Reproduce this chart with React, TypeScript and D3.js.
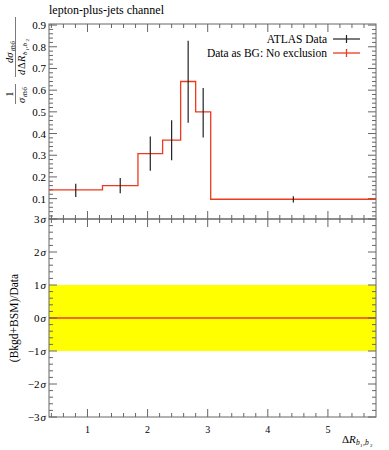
import React from 'react';
import * as d3 from 'd3';

// bin edges of Delta R(b1,b2) and the normalised cross-section per bin
const binEdges = [0.36, 1.25, 1.84, 2.25, 2.55, 2.8, 3.05, 5.8];
const dataValues = [0.14, 0.16, 0.307, 0.37, 0.64, 0.5, 0.097];
const errLow = [0.108, 0.125, 0.229, 0.277, 0.45, 0.382, 0.082];
const errHigh = [0.169, 0.195, 0.386, 0.461, 0.828, 0.61, 0.111];
// "Data as BG: No exclusion" is the data itself
const bgValues = [0.14, 0.16, 0.307, 0.37, 0.64, 0.5, 0.097];

const xTickLabels = [1, 2, 3, 4, 5];
const yTickLabels = [0.1, 0.2, 0.3, 0.4, 0.5, 0.6, 0.7, 0.8, 0.9];
const sigmaTicks = [3, 2, 1, 0, -1, -2, -3];

const FONT = '"Liberation Serif", "DejaVu Serif", serif';
const RED = '#ee3a1c';
const FRAME = '#666';

const left = 49;
const right = 376;
const top = 24;
const mid = 219;
const bottom = 417;

const App: React.FC = () => {
  const x = d3.scaleLinear().domain([0.36, 5.8]).range([left, right]);
  const y = d3.scaleLinear().domain([0.006, 0.905]).range([mid, top]);
  const yr = d3.scaleLinear().domain([-3, 3]).range([bottom, mid]);

  // step line for the background curve
  const stepPts: [number, number][] = [];
  bgValues.forEach((v, i) => {
    stepPts.push([binEdges[i], v]);
    stepPts.push([binEdges[i + 1], v]);
  });
  const stepLine = d3.line<[number, number]>()
    .x(d => x(d[0]))
    .y(d => y(d[1]));

  const xMinor = d3.range(0.4, 5.8, 0.2).filter(v => Math.abs(v - Math.round(v)) > 0.01);
  const yMinor = d3.range(0.02, 0.905, 0.02).filter(v => Math.abs(v * 10 - Math.round(v * 10)) > 0.01);
  const sMinor = d3.range(-2.8, 3, 0.2).filter(v => Math.abs(v - Math.round(v)) > 0.01);

  const maj = 8;
  const min = 4;

  const xTicks = (yy: number, dir: number, key: string) => (
    <g key={key}>
      {xTickLabels.map(v => (
        <line key={'M' + v} x1={x(v)} x2={x(v)} y1={yy} y2={yy + dir * maj} stroke={FRAME} />
      ))}
      {xMinor.map(v => (
        <line key={'m' + v.toFixed(1)} x1={x(v)} x2={x(v)} y1={yy} y2={yy + dir * min} stroke={FRAME} />
      ))}
    </g>
  );

  const yTicks = (scale: d3.ScaleLinear<number, number>, majors: number[], minors: number[], key: string) => (
    <g key={key}>
      {majors.map(v => (
        <g key={'M' + v}>
          <line x1={left} x2={left + maj} y1={scale(v)} y2={scale(v)} stroke={FRAME} />
          <line x1={right} x2={right - maj} y1={scale(v)} y2={scale(v)} stroke={FRAME} />
        </g>
      ))}
      {minors.map(v => (
        <g key={'m' + v.toFixed(2)}>
          <line x1={left} x2={left + min} y1={scale(v)} y2={scale(v)} stroke={FRAME} />
          <line x1={right} x2={right - min} y1={scale(v)} y2={scale(v)} stroke={FRAME} />
        </g>
      ))}
    </g>
  );

  return (
    <svg width={389} height={450} style={{ position: 'absolute', left: 0, top: 0 }} fontFamily={FONT}>
      <rect width={389} height={450} fill="white" />

      <text x={49} y={14} fontSize={12}>lepton-plus-jets channel</text>

      {/* upper panel */}
      {yTicks(y, yTickLabels, yMinor, 'yt')}
      {xTicks(top, 1, 'xt1')}
      {xTicks(mid, -1, 'xt2')}
      {yTickLabels.map(v => (
        <text key={v} x={46} y={y(v) + 4} fontSize={11} textAnchor="end">{v.toFixed(1)}</text>
      ))}

      <path d={stepLine(stepPts) || ''} fill="none" stroke={RED} strokeWidth={1.3} />
      {dataValues.map((v, i) => {
        const cx = x((binEdges[i] + binEdges[i + 1]) / 2);
        return (
          <line key={i} x1={cx} x2={cx} y1={y(errLow[i])} y2={y(errHigh[i])} stroke="#222" strokeWidth={1.2} />
        );
      })}

      {/* legend */}
      <text x={327} y={43} fontSize={11.5} textAnchor="end">ATLAS Data</text>
      <line x1={333} x2={360} y1={39} y2={39} stroke="#222" strokeWidth={1.2} />
      <line x1={346.5} x2={346.5} y1={35} y2={43} stroke="#222" strokeWidth={1.2} />
      <text x={327} y={57} fontSize={11.5} textAnchor="end">Data as BG: No exclusion</text>
      <line x1={333} x2={360} y1={53} y2={53} stroke={RED} strokeWidth={1.3} />
      <line x1={346.5} x2={346.5} y1={49} y2={57} stroke={RED} strokeWidth={1.3} />

      {/* y label of upper panel */}
      <g transform="translate(16,104) rotate(-90)" fontSize={10.5}>
        <text x={10} y={-3} textAnchor="middle">1</text>
        <line x1={0} x2={20} y1={-0.5} y2={-0.5} stroke="#222" strokeWidth={0.6} />
        <text x={1} y={9} fontStyle="italic">σ</text>
        <text x={7} y={11} fontSize={6.5} fontStyle="italic">tt̄bb̄</text>
        <g transform="translate(27,0)">
          <text x={14} y={-3} fontStyle="italic">dσ</text>
          <text x={26} y={-1} fontSize={6.5} fontStyle="italic">tt̄bb̄</text>
          <line x1={0} x2={60} y1={-0.5} y2={-0.5} stroke="#222" strokeWidth={0.6} />
          <text x={2} y={9} fontStyle="italic">d</text>
          <text x={8} y={9}>Δ</text>
          <text x={15} y={9} fontStyle="italic">R</text>
          <text x={22} y={11} fontSize={7} fontStyle="italic">b</text>
          <text x={26} y={12.5} fontSize={5}>1</text>
          <text x={29} y={11} fontSize={7} fontStyle="italic">,b</text>
          <text x={35.5} y={12.5} fontSize={5}>2</text>
        </g>
      </g>

      {/* lower panel */}
      <rect x={left} y={yr(1)} width={right - left} height={yr(-1) - yr(1)} fill="#ffff00" />
      <line x1={left} x2={right} y1={yr(0)} y2={yr(0)} stroke={RED} strokeWidth={1.3} />
      {yTicks(yr, sigmaTicks, sMinor, 'yr')}
      {xTicks(mid, 1, 'xt3')}
      {xTicks(bottom, -1, 'xt4')}
      {sigmaTicks.map(v => (
        <text key={v} x={46} y={yr(v) + 4} fontSize={11} textAnchor="end">
          {v < 0 ? '−' + Math.abs(v) : String(v)}
          <tspan fontStyle="italic" dx={1}>σ</tspan>
        </text>
      ))}
      <text transform={`translate(18,${yr(0)}) rotate(-90)`} textAnchor="middle" fontSize={11.5}>(Bkgd+BSM)/Data</text>

      {/* x tick labels and label */}
      {xTickLabels.map(v => (
        <text key={v} x={x(v)} y={433} fontSize={10} textAnchor="middle">{v}</text>
      ))}
      <g fontSize={11}>
        <text x={342} y={443}>Δ</text>
        <text x={349} y={443} fontStyle="italic">R</text>
        <text x={356} y={445} fontSize={7.5} fontStyle="italic">b</text>
        <text x={360} y={447} fontSize={5}>1</text>
        <text x={363} y={445} fontSize={7.5} fontStyle="italic">,b</text>
        <text x={370} y={447} fontSize={5}>2</text>
      </g>

      {/* frames */}
      <rect x={left} y={top} width={right - left} height={mid - top} fill="none" stroke={FRAME} />
      <rect x={left} y={mid} width={right - left} height={bottom - mid} fill="none" stroke={FRAME} />
    </svg>
  );
};

export default App;
